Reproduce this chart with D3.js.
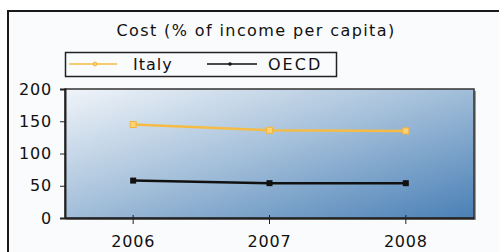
<!DOCTYPE html>
<html><head><meta charset="utf-8">
<script src="https://cdn.jsdelivr.net/npm/d3@7/dist/d3.min.js"></script>
<style>
html,body{margin:0;padding:0;background:#fff;}
svg{display:block;}
text{font-family:"DejaVu Sans",Verdana,sans-serif;fill:#111;}
</style></head><body>
<svg id="c" width="499" height="252"></svg>
<script>
const title = "Cost (% of income per capita)";
const years = ["2006","2007","2008"];
const italy = [145, 136, 135];
const oecd = [58, 54, 54];
const yTicks = [0, 50, 100, 150, 200];
const seriesNames = ["Italy","OECD"];

const svg = d3.select("#c");
const W = 499, H = 252;
const plot = {l:65, t:89, r:474, b:218};

// outer frame
svg.append("rect").attr("x",8).attr("y",11).attr("width",W).attr("height",H)
  .attr("fill","#fafbfd").attr("stroke","#1a1a1a").attr("stroke-width",2);

svg.append("text").attr("x",256).attr("y",36).attr("text-anchor","middle")
  .style("font-size","16px").style("letter-spacing","1.4px").text(title);

const defs = svg.append("defs");
const g = defs.append("linearGradient").attr("id","bg")
  .attr("x1","0%").attr("y1","0%").attr("x2","100%").attr("y2","100%");
g.append("stop").attr("offset","0%").attr("stop-color","#f0f4f9");
g.append("stop").attr("offset","45%").attr("stop-color","#a9c3dc");
g.append("stop").attr("offset","100%").attr("stop-color","#4a80b6");

const x = d3.scaleBand().domain(years).range([plot.l, plot.r]);
const y = d3.scaleLinear().domain([0,200]).range([plot.b, plot.t]);

// shadow
svg.append("rect").attr("x",plot.l+2).attr("y",plot.t+2).attr("width",plot.r-plot.l).attr("height",plot.b-plot.t)
  .attr("fill","#9a9a9a");
svg.append("rect").attr("x",plot.l).attr("y",plot.t).attr("width",plot.r-plot.l).attr("height",plot.b-plot.t)
  .attr("fill","url(#bg)").attr("stroke","#333").attr("stroke-width",1.5);

// y axis
const ya = svg.append("g").attr("transform",`translate(${plot.l},0)`)
  .call(d3.axisLeft(y).tickValues(yTicks).tickSize(5).tickPadding(8));
ya.select(".domain").attr("stroke","#222").attr("stroke-width",2);
ya.selectAll(".tick line").attr("stroke","#222");
ya.selectAll("text").style("font-size","16px").style("letter-spacing","0.8px")
  .style("font-family","'DejaVu Sans',Verdana,sans-serif").attr("fill","#111");

// x axis
const xa = svg.append("g").attr("transform",`translate(0,${plot.b})`)
  .call(d3.axisBottom(x).tickSize(6).tickSizeOuter(0).tickPadding(12));
xa.select(".domain").attr("stroke","#222").attr("stroke-width",2);
xa.selectAll(".tick line").attr("stroke","#222").attr("y1",-3);
xa.selectAll("text").style("font-size","16px").style("letter-spacing","0.8px")
  .style("font-family","'DejaVu Sans',Verdana,sans-serif").attr("fill","#111");

const cx = d => x(d) + x.bandwidth()/2;
const line = d3.line().x((d,i)=>cx(years[i])).y(d=>y(d));

svg.append("path").datum(italy).attr("d",line).attr("fill","none")
  .attr("stroke","#f4bc45").attr("stroke-width",2.5);
svg.selectAll(".mi").data(italy).enter().append("rect")
  .attr("x",(d,i)=>cx(years[i])-3).attr("y",d=>y(d)-3).attr("width",6).attr("height",6)
  .attr("fill","#fbd27a").attr("stroke","#f4b53a").attr("stroke-width",1);

svg.append("path").datum(oecd).attr("d",line).attr("fill","none")
  .attr("stroke","#111").attr("stroke-width",2.5);
svg.selectAll(".mo").data(oecd).enter().append("rect")
  .attr("x",(d,i)=>cx(years[i])-3).attr("y",d=>y(d)-3).attr("width",6).attr("height",6)
  .attr("fill","#111");

// legend
const lg = svg.append("g");
lg.append("rect").attr("x",65.5).attr("y",52.5).attr("width",271).attr("height",24)
  .attr("fill","#fafbfd").attr("stroke","#222").attr("stroke-width",1.5);
lg.append("line").attr("x1",69).attr("x2",117).attr("y1",64).attr("y2",64).attr("stroke","#f4bc45").attr("stroke-width",1.5);
lg.append("circle").attr("cx",95).attr("cy",64).attr("r",2).attr("fill","#fbd27a").attr("stroke","#f4b53a");
lg.append("text").attr("x",133).attr("y",70).style("font-size","16px").style("letter-spacing","1px").text(seriesNames[0]);
lg.append("line").attr("x1",207).attr("x2",257).attr("y1",64).attr("y2",64).attr("stroke","#111").attr("stroke-width",1.5);
lg.append("circle").attr("cx",230).attr("cy",64).attr("r",1.8).attr("fill","#111");
lg.append("text").attr("x",268).attr("y",70).style("font-size","16px").style("letter-spacing","2px").text(seriesNames[1]);
</script></body></html>
